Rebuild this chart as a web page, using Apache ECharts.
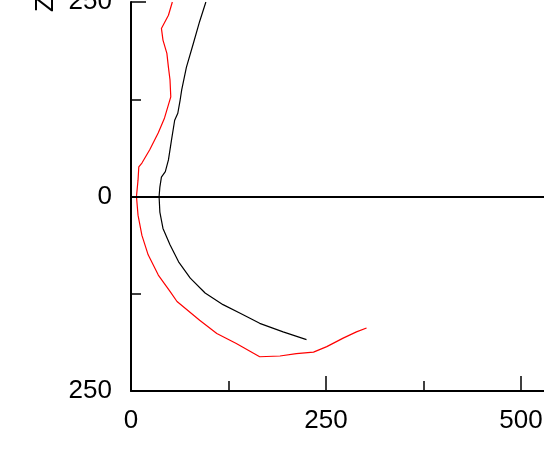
<!DOCTYPE html>
<html>
<head>
<meta charset="utf-8">
<script src="https://cdn.jsdelivr.net/npm/echarts@6/dist/echarts.min.js"></script>
<style>
html,body{margin:0;padding:0;background:#fff;}
#chart{width:544px;height:451px;}
</style>
</head>
<body>
<div id="chart"></div>
<script>
// Data
const blackZ = [250, 225, 197, 166, 137, 124, 107, 98, 73, 47, 32, 25, 12, 0, -20, -41, -62, -84, -105, -124, -139, -150, -163, -174, -184];
const blackX = [96, 88, 80, 71, 65, 63, 60, 56, 52, 48, 44, 39, 37, 36, 37, 41, 50, 61, 76, 95, 118, 140, 165, 195, 225];
const redZ = [250, 233, 216, 201, 184, 166, 150, 128, 101, 82, 60, 43, 38, 21, 0, -24, -50, -75, -101, -122, -135, -159, -176, -189, -206, -205, -202, -200, -193, -182, -174, -169];
const redX = [53, 48, 39, 41, 46, 48, 50, 51, 43, 35, 24, 14, 10, 9, 7, 9, 14, 22, 35, 50, 59, 88, 110, 135, 165, 191, 212, 234, 251, 272, 289, 302];
const xTicks = [0, 250, 500];
const zTicks = [-250, 0, 250];
const zName = 'Z';

const pair = (xs, zs) => xs.map((x, i) => [x, zs[i]]);
const font = 'Liberation Sans, Arial, sans-serif';

const chart = echarts.init(document.getElementById('chart'), null, {renderer: 'canvas'});
chart.setOption({
  animation: false,
  backgroundColor: '#ffffff',
  grid: {left: 131, top: 2, bottom: 60, right: -172, containLabel: false, outerBoundsMode: 'none'},
  xAxis: {
    type: 'value', min: 0, max: 750, interval: xTicks[1] - xTicks[0],
    axisLine: {show: true, onZero: false, lineStyle: {color: '#000', width: 2}},
    axisTick: {show: true, inside: true, length: 15, lineStyle: {color: '#000', width: 1.5}},
    minorTick: {show: true, splitNumber: 2, length: 10, lineStyle: {color: '#000', width: 1.5}},
    splitLine: {show: false},
    axisLabel: {color: '#000', fontSize: 26, fontFamily: font, margin: 17,
      formatter: v => xTicks.includes(v) ? String(Math.abs(v)) : ''}
  },
  yAxis: {
    type: 'value', min: zTicks[0], max: zTicks[2], interval: zTicks[1] - zTicks[0],
    axisLine: {show: true, onZero: false, lineStyle: {color: '#000', width: 2}},
    axisTick: {show: true, inside: true, length: 15, lineStyle: {color: '#000', width: 1.5}},
    minorTick: {show: true, splitNumber: 2, length: 10, lineStyle: {color: '#000', width: 1.5}},
    splitLine: {show: false},
    axisLabel: {color: '#000', fontSize: 26, fontFamily: font, margin: 19,
      formatter: v => String(Math.abs(v))}
  },
  graphic: [{
    type: 'text', x: 46, y: 4, rotation: Math.PI / 2,
    style: {text: zName, fill: '#000', font: '26px ' + font, align: 'center', verticalAlign: 'middle'}
  }],
  series: [
    {
      type: 'line', data: pair(blackX, blackZ), symbol: 'none', smooth: false,
      lineStyle: {color: '#000', width: 1.2}, clip: true,
      markLine: {silent: true, symbol: 'none', label: {show: false},
        lineStyle: {color: '#000', width: 2, type: 'solid'}, data: [{yAxis: 0}]}
    },
    {
      type: 'line', data: pair(redX, redZ), symbol: 'none', smooth: false,
      lineStyle: {color: '#ff0000', width: 1.2}, clip: true
    }
  ]
});
</script>
</body>
</html>
